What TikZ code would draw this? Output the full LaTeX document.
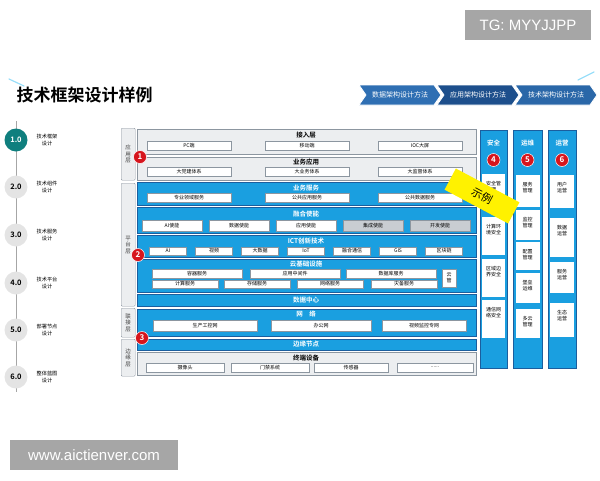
\documentclass[tikz,border=0pt]{standalone}
\usepackage{fontspec}
\setmainfont{Noto Sans CJK SC}[BoldFont={Noto Sans CJK SC Bold}]
\newfontfamily\wmfont{Liberation Sans}
\usepackage{tikz}
\usetikzlibrary{shapes.symbols}

\definecolor{skyblue}{HTML}{1A9FE0}
\definecolor{deepblue}{HTML}{1B5E9E}
\definecolor{panelgray}{HTML}{ECEEF0}
\definecolor{boxgray}{HTML}{8C96A0}
\definecolor{btngray}{HTML}{C9CDD2}
\definecolor{tealc}{HTML}{0F7F7E}
\definecolor{circgray}{HTML}{E4E4E4}
\definecolor{badgered}{HTML}{D6151D}
\definecolor{stickyellow}{HTML}{FFF200}
\definecolor{wmgray}{HTML}{A6A6A6}
\definecolor{chevA}{HTML}{2F6FB3}
\definecolor{chevB}{HTML}{1D4F8C}
\definecolor{chevC}{HTML}{2A67A8}

\begin{document}
\begin{tikzpicture}[x=1pt,y=-1pt]
    \tikzstyle{graybox} = [draw=boxgray, fill=panelgray, line width=0.6pt, anchor=north west, inner sep=0];
    \tikzstyle{bluebox} = [draw=deepblue, fill=skyblue, line width=0.6pt, anchor=north west, inner sep=0];
    \tikzstyle{sidelbl} = [draw=boxgray, fill=panelgray, rounded corners=1pt, anchor=north west, inner sep=0, align=center, text=black!75, font=\fontsize{5.5}{6.5}\selectfont];
    \tikzstyle{item} = [draw=boxgray, fill=white, line width=0.4pt, inner sep=0, minimum height=9pt, font=\fontsize{5}{6}\selectfont];
    \tikzstyle{graytitle} = [font=\bfseries\fontsize{6.5}{7}\selectfont];
    \tikzstyle{bluetitle} = [text=white, font=\bfseries\fontsize{6.5}{7}\selectfont];
    \tikzstyle{badge} = [circle, fill=badgered, draw=white, line width=0.5pt, inner sep=0, minimum size=13pt, text=white, font=\bfseries\fontsize{8}{8}\selectfont];
    \tikzstyle{colbox} = [draw=deepblue, fill=skyblue, line width=0.8pt, anchor=north west, inner sep=0, minimum height=238pt];
    \tikzstyle{colitem} = [fill=white, anchor=north, inner sep=0];
    \tikzstyle{coltext} = [anchor=north, yshift=-4pt, align=center, font=\fontsize{5}{6}\selectfont];
    \tikzstyle{chev} = [signal, signal to=east, signal from=west, signal pointer angle=110, draw=white, line width=0.8pt, minimum width=82pt, minimum height=20pt, inner sep=0, text=white, font=\fontsize{7}{7}\selectfont];
    \tikzstyle{stage} = [circle, minimum size=23pt, inner sep=0, font=\bfseries\fontsize{7.5}{8}\selectfont];
    \tikzstyle{stagelbl} = [align=center, font=\fontsize{5.2}{6.5}\selectfont];
    \tikzstyle{wm} = [fill=wmgray, text=white, inner sep=0, font=\wmfont\fontsize{15}{16}\selectfont];
    \useasboundingbox (0,0) rectangle (600,480);

    % header
    \node[wm, minimum width=126pt, minimum height=30pt] (tg) at (528,25) {TG: MYYJJPP};
    \draw[cyan!40, line width=1.2pt, line cap=round] (9,79) -- (24,86);
    \draw[cyan!40, line width=1.2pt, line cap=round] (578,80) -- (594,72);
    \node[anchor=west, font=\bfseries\fontsize{17}{18}\selectfont] (title) at (13,95) {技术框架设计样例};
    \node[chev, fill=chevA] (dataarch) at (400,95) {数据架构设计方法};
    \node[chev, fill=chevB] (apparch) at (478,95) {应用架构设计方法};
    \node[chev, fill=chevC] (techarch) at (556,95) {技术架构设计方法};

    % timeline
    \coordinate (tltop) at (16,121);
    \coordinate (tlbot) at (16,392);
    \draw[gray!70, line width=0.8pt] (tltop) -- (tlbot);
    \node[stage, fill=tealc, text=white] (s1) at (16,140) {1.0};
    \node[stage, fill=circgray] (s2) at (16,187) {2.0};
    \node[stage, fill=circgray] (s3) at (16,235) {3.0};
    \node[stage, fill=circgray] (s4) at (16,283) {4.0};
    \node[stage, fill=circgray] (s5) at (16,330) {5.0};
    \node[stage, fill=circgray] (s6) at (16,377) {6.0};
    \node[stagelbl] (l1) at (47,140) {技术框架\\设计};
    \node[stagelbl] (l2) at (47,187) {技术组件\\设计};
    \node[stagelbl] (l3) at (47,235) {技术服务\\设计};
    \node[stagelbl] (l4) at (47,283) {技术平台\\设计};
    \node[stagelbl] (l5) at (47,330) {部署节点\\设计};
    \node[stagelbl] (l6) at (47,377) {整体蓝图\\设计};

    % layer labels
    \node[sidelbl, minimum width=14pt, minimum height=52pt] (applbl) at (121,128) {应\\用\\层};
    \node[sidelbl, minimum width=14pt, minimum height=123pt] (platlbl) at (121,183) {平\\台\\层};
    \node[sidelbl, minimum width=14pt, minimum height=29pt] (connlbl) at (121,308) {联\\接\\层};
    \node[sidelbl, minimum width=14pt, minimum height=37pt] (edgelbl) at (121,339) {边\\缘\\层};

    % application layer
    \node[graybox, minimum width=339pt, minimum height=25pt] (access) at (137,129) {};
    \node[graytitle] (accesst) at (306,135) {接入层};
    \node[item, minimum width=84pt] (pc) at (189,145.5) {PC端};
    \node[item, minimum width=84pt] (mobile) at (307,145.5) {移动端};
    \node[item, minimum width=84pt] (ioc) at (420,145.5) {IOC大屏};
    \node[graybox, minimum width=339pt, minimum height=23pt] (bizapp) at (137,157) {};
    \node[graytitle] (bizappt) at (306,162) {业务应用};
    \node[item, minimum width=84pt] (party) at (189,172) {大党建体系};
    \node[item, minimum width=84pt] (business) at (307,172) {大业务体系};
    \node[item, minimum width=84pt] (supervise) at (420,172) {大监督体系};

    % platform layer
    \node[bluebox, minimum width=339pt, minimum height=23pt] (bizsvc) at (137,182) {};
    \node[bluetitle] (bizsvct) at (306,188) {业务服务};
    \node[item, minimum width=84pt] (domainsvc) at (189,197.5) {专业领域服务};
    \node[item, minimum width=84pt] (pubappsvc) at (307,197.5) {公共应用服务};
    \node[item, minimum width=84pt] (pubdatasvc) at (420,197.5) {公共数据服务};
    \node[bluebox, minimum width=339pt, minimum height=26pt] (enable) at (137,207) {};
    \node[bluetitle] (enablet) at (306,214) {融合使能};
    \node[item, minimum width=60pt, minimum height=11pt] (aien) at (172,225.5) {AI使能};
    \node[item, minimum width=60pt, minimum height=11pt] (dataen) at (239,225.5) {数据使能};
    \node[item, minimum width=60pt, minimum height=11pt] (appen) at (306,225.5) {应用使能};
    \node[item, fill=btngray, minimum width=60pt, minimum height=11pt] (integen) at (373,225.5) {集成使能};
    \node[item, fill=btngray, minimum width=60pt, minimum height=11pt] (deven) at (440,225.5) {开发使能};
    \node[bluebox, minimum width=339pt, minimum height=22pt] (ict) at (137,235) {};
    \node[bluetitle] (ictt) at (306,241) {ICT创新技术};
    \node[item, minimum width=37pt, minimum height=8pt] (ai) at (168,251) {AI};
    \node[item, minimum width=37pt, minimum height=8pt] (video) at (214,251) {视频};
    \node[item, minimum width=37pt, minimum height=8pt] (bigdata) at (260,251) {大数据};
    \node[item, minimum width=37pt, minimum height=8pt] (iot) at (306,251) {IoT};
    \node[item, minimum width=37pt, minimum height=8pt] (comm) at (352,251) {融合通信};
    \node[item, minimum width=37pt, minimum height=8pt] (gis) at (398,251) {GIS};
    \node[item, minimum width=37pt, minimum height=8pt] (chain) at (444,251) {区块链};
    \node[bluebox, minimum width=339pt, minimum height=33pt] (cloud) at (137,259) {};
    \node[bluetitle] (cloudt) at (306,264) {云基础设施};
    \node[item, minimum width=90pt] (container) at (197,273.5) {容器服务};
    \node[item, minimum width=90pt] (middleware) at (295,273.5) {应用中间件};
    \node[item, minimum width=90pt] (database) at (391,273.5) {数据库服务};
    \node[item, minimum width=66pt, minimum height=8pt] (compute) at (185,284) {计算服务};
    \node[item, minimum width=66pt, minimum height=8pt] (storage) at (257,284) {存储服务};
    \node[item, minimum width=66pt, minimum height=8pt] (network) at (330,284) {网络服务};
    \node[item, minimum width=66pt, minimum height=8pt] (backup) at (404,284) {灾备服务};
    \node[item, minimum width=14pt, minimum height=18pt, align=center] (cloudmgmt) at (449,278) {云\\管};
    \node[bluebox, minimum width=339pt, minimum height=12pt] (dc) at (137,294) {};
    \node[bluetitle] (dct) at (306,300) {数据中心};

    % connection and edge layers
    \node[bluebox, minimum width=339pt, minimum height=27pt] (net) at (137,309) {};
    \node[bluetitle] (nett) at (306,314) {网\quad 络};
    \node[item, minimum width=104pt, minimum height=11pt] (ics) at (205,326) {生产工控网};
    \node[item, minimum width=100pt, minimum height=11pt] (office) at (321,326) {办公网};
    \node[item, minimum width=84pt, minimum height=11pt] (cctv) at (424,326) {视频监控专网};
    \node[bluebox, minimum width=339pt, minimum height=11pt] (edge) at (137,339) {};
    \node[bluetitle] (edget) at (306,344.5) {边缘节点};
    \node[graybox, minimum width=339pt, minimum height=23pt] (term) at (137,352) {};
    \node[graytitle] (termt) at (306,358) {终端设备};
    \node[item, minimum width=78pt] (camera) at (185,367.5) {摄像头};
    \node[item, minimum width=78pt] (gate) at (270,367.5) {门禁系统};
    \node[item, minimum width=74pt] (sensor) at (351,367.5) {传感器};
    \node[item, minimum width=76pt] (more) at (435,367.5) {......};

    % side columns
    \node[colbox, minimum width=27pt] (sec) at (480,130) {};
    \node[bluetitle] (sect) at (493.5,143) {安全};
    \node[colitem, minimum width=23pt, minimum height=34pt, label={[coltext]north:安全管\\理}] (secmgmt) at (493.5,174) {};
    \node[colitem, minimum width=23pt, minimum height=38pt, label={[coltext]north:计算环\\境安全}] (secenv) at (493.5,217) {};
    \node[colitem, minimum width=23pt, minimum height=38pt, label={[coltext]north:区域边\\界安全}] (secbound) at (493.5,259) {};
    \node[colitem, minimum width=23pt, minimum height=38pt, label={[coltext]north:通信网\\络安全}] (secnet) at (493.5,300) {};
    \node[colbox, minimum width=29pt] (ops) at (513,130) {};
    \node[bluetitle] (opst) at (527.5,143) {运维};
    \node[colitem, minimum width=24pt, minimum height=32pt, label={[coltext]north:服务\\管理}] (svcmgmt) at (527.5,175) {};
    \node[colitem, minimum width=24pt, minimum height=30pt, label={[coltext]north:监控\\管理}] (monmgmt) at (527.5,210) {};
    \node[colitem, minimum width=24pt, minimum height=28pt, label={[coltext]north:配置\\管理}] (cfgmgmt) at (527.5,242) {};
    \node[colitem, minimum width=24pt, minimum height=30pt, label={[coltext]north:堡垒\\运维}] (bastion) at (527.5,273) {};
    \node[colitem, minimum width=24pt, minimum height=29pt, label={[coltext]north:多云\\管理}] (multicloud) at (527.5,309) {};
    \node[colbox, minimum width=28pt] (opr) at (548,130) {};
    \node[bluetitle] (oprt) at (562,143) {运营};
    \node[colitem, minimum width=24pt, minimum height=33pt, label={[coltext]north:用户\\运营}] (useropr) at (562,175) {};
    \node[colitem, minimum width=24pt, minimum height=39pt, label={[coltext]north:数据\\运营}] (dataopr) at (562,218) {};
    \node[colitem, minimum width=24pt, minimum height=31pt, label={[coltext]north:服务\\运营}] (svcopr) at (562,262) {};
    \node[colitem, minimum width=24pt, minimum height=34pt, label={[coltext]north:生态\\运营}] (ecoopr) at (562,303) {};

    % badges
    \node[badge] (b1) at (140,157) {1};
    \node[badge] (b2) at (138,255) {2};
    \node[badge] (b3) at (142,338) {3};
    \node[badge] (b4) at (493.5,160) {4};
    \node[badge] (b5) at (527.5,160) {5};
    \node[badge] (b6) at (562,160) {6};

    % sticker
    \node[fill=stickyellow, rotate=-28, minimum width=72pt, minimum height=24pt, inner sep=0, font=\fontsize{11}{11}\selectfont] (demo) at (482,196) {示例};

    \node[wm, minimum width=168pt, minimum height=30pt] (site) at (94,455) {www.aictienver.com};
\end{tikzpicture}
\end{document}
